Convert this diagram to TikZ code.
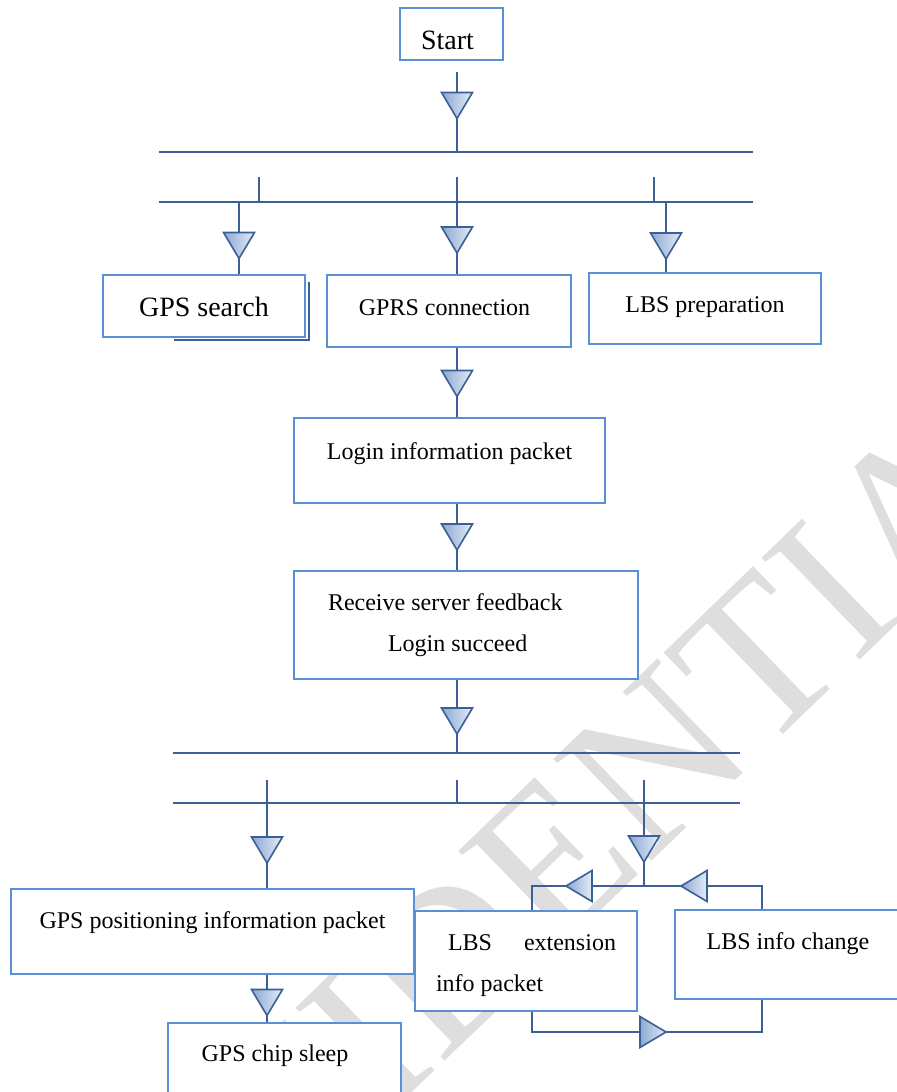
\documentclass[tikz,border=0pt]{standalone}
\usepackage{fontspec}
\setmainfont{Liberation Serif}
\usepackage{tikz}
\usetikzlibrary{decorations.markings}
\definecolor{boxblue}{RGB}{91,143,213}
\definecolor{lineblue}{RGB}{58,96,150}
\definecolor{tridark}{RGB}{140,168,212}
\definecolor{trilight}{RGB}{228,236,247}
\tikzstyle{link}=[draw=lineblue, line width=1pt]

\begin{document}
\begin{tikzpicture}[x=0.5pt, y=-0.5pt,
  box/.style={draw=boxblue, line width=1pt, fill=white, anchor=north west,
              inner sep=0pt, align=flush center, font=\fontsize{12}{20.5}\selectfont},
  bigbox/.style={box, font=\fontsize{14}{17}\selectfont},
  tri/.style={draw=lineblue, line width=0.8pt, left color=tridark, right color=trilight},
  flowmark/.style={postaction={decorate, decoration={markings,
      mark=at position #1 with {\draw[tri] (-13,-15.5) -- (-13,15.5) -- (13,0) -- cycle;}}}},
  watermark/.style={text=black!13, font=\fontsize{108}{108}\selectfont}
]
\useasboundingbox (0,0) rectangle (897,1092);
\clip (0,0) rectangle (897,1092);

% Watermark
\node[watermark, rotate=44] (wm) at (495,915) {CONFIDENTIAL};

% Row 0: Start
\node[bigbox, text width=51.5pt, text height=20.5pt, text depth=5.5pt] (start) at (399,7) {\hspace*{-4pt}Start};

% Row 1: three parallel tasks
\node[bigbox, text width=101pt, text height=20.5pt, text depth=10.5pt] (gpssearch) at (102,274) {GPS search};
\node[box, text width=122pt, text height=20pt, text depth=16pt] (gprs) at (326,274) {\hspace*{-4.5pt}GPRS connection};
\node[box, text width=116pt, text height=19.5pt, text depth=16pt] (lbsprep) at (588,272) {LBS preparation};
\draw[link] ([shift={(-132,2)}]gpssearch.south east) -- ([shift={(3,2)}]gpssearch.south east)
  -- ([shift={(3,-56)}]gpssearch.south east);

% Row 2, 3: login
\node[box, text width=155.5pt, text height=20.5pt, text depth=22pt] (login) at (293,417) {Login information packet};
\node[box, text width=172pt, text height=19.5pt, text depth=34.5pt, align=flush left] (receive) at (293,570)
  {\hspace*{17pt}Receive server feedback\\\hspace*{47pt}Login succeed};

% Row 4: positioning
\node[box, text width=201.5pt, text height=19.5pt, text depth=23pt] (gpspos) at (10,888) {GPS positioning information packet};
\node[box, text width=116.5pt, text height=19pt, text depth=25pt] (chipsleep) at (167,1022) {\hspace*{-9.5pt}GPS chip sleep};
\node[box, text width=111pt, text height=19.5pt, text depth=30.5pt, align=flush left] (lbsext) at (414,910)
  {\hspace*{16.5pt}\makebox[84pt][s]{LBS\hfill extension}\\\hspace*{10.5pt}info packet};
\node[box, text width=113pt, text height=19.5pt, text depth=25pt] (lbsinfo) at (674,909) {LBS info change};

% Bus lines
\coordinate (bus1w) at (159,152); \coordinate (bus1e) at (753,152);
\coordinate (bus2w) at (159,202); \coordinate (bus2e) at (753,202);
\coordinate (bus3w) at (173,753); \coordinate (bus3e) at (740,753);
\coordinate (bus4w) at (173,803); \coordinate (bus4e) at (740,803);
\draw[link] (bus1w) -- (bus1e);
\draw[link] (bus2w) -- (bus2e);
\draw[link] (bus3w) -- (bus3e);
\draw[link] (bus4w) -- (bus4e);

% Upper connectors
\coordinate (s0) at (457,72);
\coordinate (t1) at (259,177); \coordinate (t2) at (654,177);
\coordinate (d1) at (239,202); \coordinate (d2) at (457,177); \coordinate (d3) at (666,202);
\draw[link, flowmark=16.75pt] (s0) -- (s0 |- bus1w);
\draw[link] (t1) -- (t1 |- bus2w);
\draw[link] (t2) -- (t2 |- bus2w);
\draw[link, flowmark=21.75pt] (d1) -- (d1 |- gpssearch.north);
\draw[link, flowmark=31.5pt] (d2) -- (d2 |- gprs.north);
\draw[link, flowmark=22pt] (d3) -- (d3 |- lbsprep.north);
\draw[link, flowmark=17.75pt] (gprs.south -| s0) -- (login.north -| s0);
\draw[link, flowmark=16.5pt] (login.south -| s0) -- (receive.north -| s0);
\draw[link, flowmark=20.5pt] (receive.south -| s0) -- (s0 |- bus3w);

% Lower connectors
\coordinate (u1) at (267,780); \coordinate (u2) at (457,780); \coordinate (u3) at (644,780);
\coordinate (lp1) at (762,886); \coordinate (lp2) at (532,886);
\coordinate (lp3) at (532,1032); \coordinate (lp4) at (762,1032);
\draw[link] (u2) -- (u2 |- bus4w);
\draw[link, flowmark=35pt] (u1) -- (u1 |- gpspos.north);
\draw[link, flowmark=34.5pt] (u3) -- (u3 |- lp1);
\draw[link, flowmark=13.75pt] (gpspos.south -| u1) -- (chipsleep.north -| u1);
\draw[link, flowmark=45.5pt, flowmark=103pt] (lbsinfo.north -| lp1) -- (lp1) -- (lp2) -- (lbsext.north -| lp2);
\draw[link, flowmark=70.5pt] (lbsext.south -| lp3) -- (lp3) -- (lp4) -- (lbsinfo.south -| lp4);
\end{tikzpicture}
\end{document}
